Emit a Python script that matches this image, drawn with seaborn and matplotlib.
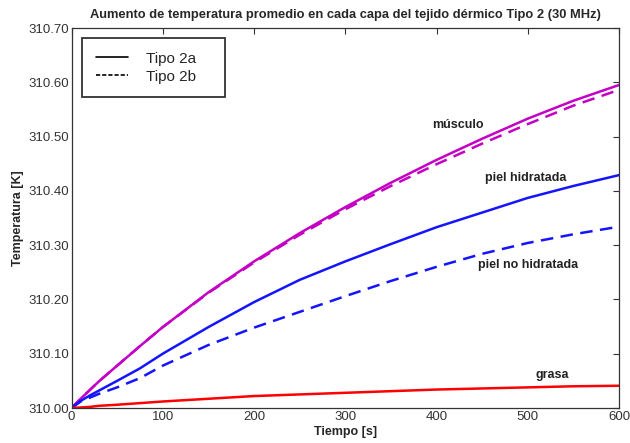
import matplotlib
matplotlib.use("Agg")
import matplotlib.pyplot as plt
from matplotlib.lines import Line2D
import pandas as pd
import seaborn as sns

# Time samples [s]
tiempo = [0, 10, 20, 30, 50, 75, 100, 150, 200, 250, 300, 350, 400, 450, 500, 550, 600]

# Mean temperature per layer [K]
musculo_2a = [310.000, 310.017, 310.033, 310.049, 310.078, 310.114, 310.149, 310.213, 310.270,
              310.322, 310.370, 310.415, 310.457, 310.496, 310.533, 310.566, 310.595]
musculo_2b = [310.000, 310.017, 310.033, 310.049, 310.078, 310.114, 310.149, 310.212, 310.268,
              310.319, 310.366, 310.409, 310.449, 310.487, 310.523, 310.557, 310.586]
piel_hid_2a = [310.000, 310.013, 310.023, 310.032, 310.050, 310.073, 310.100, 310.149, 310.195,
               310.236, 310.270, 310.302, 310.333, 310.360, 310.387, 310.409, 310.429]
piel_nohid_2b = [310.000, 310.012, 310.019, 310.026, 310.038, 310.055, 310.078, 310.116, 310.148,
                 310.177, 310.206, 310.234, 310.260, 310.284, 310.304, 310.320, 310.334]
grasa_2a = [310.000, 310.001, 310.002, 310.004, 310.006, 310.009, 310.012, 310.017, 310.022,
            310.025, 310.028, 310.031, 310.034, 310.036, 310.038, 310.040, 310.041]

x_ticks = [0, 100, 200, 300, 400, 500, 600]
y_ticks = [310.00, 310.10, 310.20, 310.30, 310.40, 310.50, 310.60, 310.70]

sns.set_theme(style="white")
plt.rcParams["font.family"] = ["Liberation Sans", "DejaVu Sans"]

fig = plt.figure(figsize=(6.3, 4.43), dpi=100)
ax = fig.add_axes([71.5 / 630, 1 - 408 / 443, (619 - 71.5) / 630, (408 - 28) / 443])

series = [
    (musculo_2a, "#c400c4", "-"),
    (musculo_2b, "#c400c4", "--"),
    (piel_hid_2a, "#1414ff", "-"),
    (piel_nohid_2b, "#1414ff", "--"),
    (grasa_2a, "#ff0000", "-"),
]
for vals, col, ls in series:
    df = pd.DataFrame({"t": tiempo, "T": vals})
    sns.lineplot(data=df, x="t", y="T", color=col, linestyle=ls, linewidth=1.8, ax=ax)
    if ls == "--":
        ax.lines[-1].set_dashes([5, 3])

ax.set_xlim(0, 600)
ax.set_ylim(310.0, 310.7)
ax.set_xticks(x_ticks)
ax.set_yticks(y_ticks)
ax.set_yticklabels([f"{v:.2f}" for v in y_ticks])
ax.tick_params(direction="in", top=True, right=True, length=4.5, width=0.8,
               labelsize=9.5, labelcolor="#333333", color="#333333", pad=2)
for s in ax.spines.values():
    s.set_color("#333333")
    s.set_linewidth(0.9)

ax.set_xlabel("Tiempo [s]", fontsize=9, fontweight="bold", labelpad=2)
ax.set_ylabel("Temperatura [K]", fontsize=9, fontweight="bold", labelpad=3)
ax.set_title("Aumento de temperatura promedio en cada capa del tejido dérmico Tipo 2 (30 MHz)",
             fontsize=9.3, fontweight="bold", pad=7)

# Layer annotations
lab = dict(fontsize=9, fontweight="bold", ha="center", va="center", color="#222222")
ax.text(423, 310.522, "músculo", **lab)
ax.text(498, 310.424, "piel hidratada", **lab)
ax.text(500, 310.264, "piel no hidratada", **lab)
ax.text(527, 310.061, "grasa", **lab)

handles = [Line2D([], [], color="black", linewidth=1.2, linestyle="-"),
           Line2D([], [], color="black", linewidth=1.2, linestyle=(0, (2.5, 1.2)))]
leg = ax.legend(handles, ["Tipo 2a", "Tipo 2b"], loc="upper left", fontsize=11,
                frameon=True, fancybox=False, edgecolor="black", handlelength=2.1,
                borderpad=0.9, labelspacing=0.25, handletextpad=1.2,
                bbox_to_anchor=(0.0192, 0.0, 0.261, 0.9737), mode="expand", borderaxespad=0)
leg.get_frame().set_linewidth(1.3)

fig.savefig("out.png", dpi=100)
